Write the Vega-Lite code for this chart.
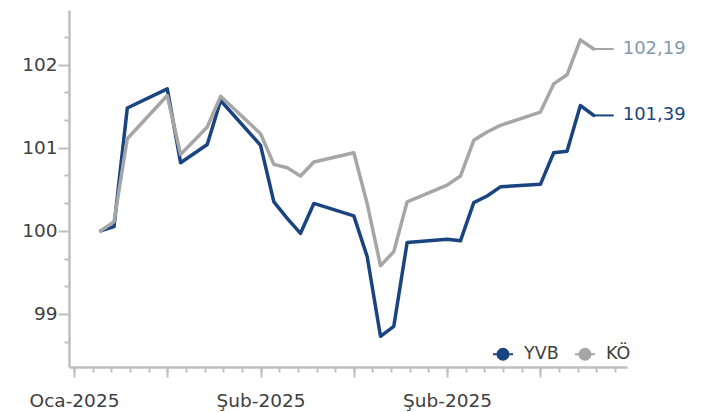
{
  "$schema": "https://vega.github.io/schema/vega-lite/v6.json",
  "width": 558,
  "height": 357,
  "autosize": {"type": "none"},
  "padding": {"left": 69, "top": 10, "right": 77, "bottom": 45},
  "background": "white",
  "config": {
    "view": {"stroke": null},
    "font": "DejaVu Sans",
    "locale": {
      "number": {"decimal": ",", "thousands": ".", "grouping": [3], "currency": ["₺", ""]},
      "time": {
        "dateTime": "%A, %e %B %Y %X",
        "date": "%d.%m.%Y",
        "time": "%H:%M:%S",
        "periods": ["AM", "PM"],
        "days": ["Pazar", "Pazartesi", "Salı", "Çarşamba", "Perşembe", "Cuma", "Cumartesi"],
        "shortDays": ["Paz", "Pzt", "Sal", "Çar", "Per", "Cum", "Cmt"],
        "months": ["Ocak", "Şubat", "Mart", "Nisan", "Mayıs", "Haziran", "Temmuz", "Ağustos", "Eylül", "Ekim", "Kasım", "Aralık"],
        "shortMonths": ["Oca", "Şub", "Mar", "Nis", "May", "Haz", "Tem", "Ağu", "Eyl", "Eki", "Kas", "Ara"]
      }
    },
    "axis": {
      "grid": false,
      "domainColor": "#BFBFBF",
      "tickColor": "#BFBFBF",
      "labelColor": "#404040",
      "labelFont": "DejaVu Sans",
      "labelFontSize": 18.5,
      "title": null
    }
  },
  "data": {
    "values": [
      {"date": "2025-01-22", "series": "YVB", "value": 100.00},
      {"date": "2025-01-23", "series": "YVB", "value": 100.05},
      {"date": "2025-01-24", "series": "YVB", "value": 101.48},
      {"date": "2025-01-27", "series": "YVB", "value": 101.71},
      {"date": "2025-01-28", "series": "YVB", "value": 100.82},
      {"date": "2025-01-30", "series": "YVB", "value": 101.04},
      {"date": "2025-01-31", "series": "YVB", "value": 101.57},
      {"date": "2025-02-03", "series": "YVB", "value": 101.03},
      {"date": "2025-02-04", "series": "YVB", "value": 100.35},
      {"date": "2025-02-05", "series": "YVB", "value": 100.15},
      {"date": "2025-02-06", "series": "YVB", "value": 99.97},
      {"date": "2025-02-07", "series": "YVB", "value": 100.33},
      {"date": "2025-02-10", "series": "YVB", "value": 100.18},
      {"date": "2025-02-11", "series": "YVB", "value": 99.69},
      {"date": "2025-02-12", "series": "YVB", "value": 98.73},
      {"date": "2025-02-13", "series": "YVB", "value": 98.85},
      {"date": "2025-02-14", "series": "YVB", "value": 99.86},
      {"date": "2025-02-17", "series": "YVB", "value": 99.90},
      {"date": "2025-02-18", "series": "YVB", "value": 99.88},
      {"date": "2025-02-19", "series": "YVB", "value": 100.34},
      {"date": "2025-02-20", "series": "YVB", "value": 100.42},
      {"date": "2025-02-21", "series": "YVB", "value": 100.53},
      {"date": "2025-02-24", "series": "YVB", "value": 100.56},
      {"date": "2025-02-25", "series": "YVB", "value": 100.94},
      {"date": "2025-02-26", "series": "YVB", "value": 100.96},
      {"date": "2025-02-27", "series": "YVB", "value": 101.51},
      {"date": "2025-02-28", "series": "YVB", "value": 101.39},
      {"date": "2025-01-22", "series": "KÖ", "value": 100.00},
      {"date": "2025-01-23", "series": "KÖ", "value": 100.11},
      {"date": "2025-01-24", "series": "KÖ", "value": 101.11},
      {"date": "2025-01-27", "series": "KÖ", "value": 101.63},
      {"date": "2025-01-28", "series": "KÖ", "value": 100.92},
      {"date": "2025-01-30", "series": "KÖ", "value": 101.25},
      {"date": "2025-01-31", "series": "KÖ", "value": 101.62},
      {"date": "2025-02-03", "series": "KÖ", "value": 101.17},
      {"date": "2025-02-04", "series": "KÖ", "value": 100.80},
      {"date": "2025-02-05", "series": "KÖ", "value": 100.76},
      {"date": "2025-02-06", "series": "KÖ", "value": 100.66},
      {"date": "2025-02-07", "series": "KÖ", "value": 100.83},
      {"date": "2025-02-10", "series": "KÖ", "value": 100.94},
      {"date": "2025-02-11", "series": "KÖ", "value": 100.33},
      {"date": "2025-02-12", "series": "KÖ", "value": 99.58},
      {"date": "2025-02-13", "series": "KÖ", "value": 99.75},
      {"date": "2025-02-14", "series": "KÖ", "value": 100.35},
      {"date": "2025-02-17", "series": "KÖ", "value": 100.55},
      {"date": "2025-02-18", "series": "KÖ", "value": 100.66},
      {"date": "2025-02-19", "series": "KÖ", "value": 101.09},
      {"date": "2025-02-20", "series": "KÖ", "value": 101.19},
      {"date": "2025-02-21", "series": "KÖ", "value": 101.27},
      {"date": "2025-02-24", "series": "KÖ", "value": 101.43},
      {"date": "2025-02-25", "series": "KÖ", "value": 101.77},
      {"date": "2025-02-26", "series": "KÖ", "value": 101.88},
      {"date": "2025-02-27", "series": "KÖ", "value": 102.30},
      {"date": "2025-02-28", "series": "KÖ", "value": 102.19}
    ]
  },
  "layer": [
    {
      "transform": [{"filter": {"field": "series", "equal": "YVB"}}],
      "mark": {"type": "line", "strokeWidth": 3.5, "strokeJoin": "round", "strokeCap": "round"},
      "encoding": {
        "x": {
          "field": "date", "type": "temporal",
          "scale": {"type": "utc", "domain": [1737298800000, 1740916800000]},
          "axis": {
            "orient": "bottom",
            "values": [1737331200000, 1737452160000, 1737573120000, 1737694080000, 1737815040000, 1737936000000, 1738056960000, 1738177920000, 1738298880000, 1738419840000, 1738540800000, 1738661760000, 1738782720000, 1738903680000, 1739024640000, 1739145600000, 1739266560000, 1739387520000, 1739508480000, 1739629440000, 1739750400000, 1739871360000, 1739992320000, 1740113280000, 1740234240000, 1740355200000, 1740476160000, 1740597120000, 1740718080000, 1740839040000],
            "tickSize": 5, "tickWidth": 2, "labels": false, "domain": true, "domainWidth": 2.5
          }
        },
        "y": {
          "field": "value", "type": "quantitative",
          "scale": {"domain": [98.36, 102.66], "zero": false, "nice": false},
          "axis": {
            "orient": "left",
            "values": [98.6667, 99.3333, 99.6667, 100.3333, 100.6667, 101.3333, 101.6667, 102.3333],
            "tickSize": 5, "tickWidth": 2, "labels": false, "domain": true, "domainWidth": 2.5
          }
        },
        "color": {
          "field": "series", "type": "nominal",
          "scale": {"domain": ["YVB", "KÖ"], "range": ["#1a4480", "#a6a6a6"]},
          "legend": {
            "title": null, "orient": "none", "legendX": 423, "legendY": 333, "direction": "horizontal",
            "symbolType": "M-1,0H1M0.55,0A0.55,0.55,0,1,1,-0.55,0A0.55,0.55,0,1,1,0.55,0Z",
            "symbolSize": 400, "symbolStrokeWidth": 2, "labelFontSize": 17.5, "labelColor": "#404040",
            "labelFont": "DejaVu Sans", "labelOffset": 10, "columnPadding": 12, "padding": 0,
            "encode": {"symbols": {"update": {"fill": {"scale": "color", "field": "value"}, "stroke": {"scale": "color", "field": "value"}, "opacity": {"value": 1}}}}
          }
        }
      }
    },
    {
      "transform": [{"filter": {"field": "series", "equal": "KÖ"}}],
      "mark": {"type": "line", "strokeWidth": 3.5, "strokeJoin": "round", "strokeCap": "round"},
      "encoding": {
        "x": {
          "field": "date", "type": "temporal",
          "scale": {"type": "utc", "domain": [1737298800000, 1740916800000]},
          "axis": {
            "orient": "bottom",
            "values": [1737331200000, 1737936000000, 1738540800000, 1739145600000, 1739750400000, 1740355200000],
            "tickSize": 10, "tickWidth": 2, "domain": false, "format": "%b-%Y",
            "labelExpr": "(round((datum.value - 1737331200000) / 86400000) % 14 == 0) ? datum.label : ''",
            "labelPadding": 14, "labelOverlap": false, "labelFlush": false, "labelBound": false
          }
        },
        "y": {
          "field": "value", "type": "quantitative",
          "scale": {"domain": [98.36, 102.66], "zero": false, "nice": false},
          "axis": {
            "orient": "left", "values": [99, 100, 101, 102], "format": "d",
            "tickSize": 11, "tickWidth": 2, "domain": false, "labelPadding": 1
          }
        },
        "color": {
          "field": "series", "type": "nominal",
          "scale": {"domain": ["YVB", "KÖ"], "range": ["#1a4480", "#a6a6a6"]},
          "legend": {
            "title": null, "orient": "none", "legendX": 423, "legendY": 333, "direction": "horizontal",
            "symbolType": "M-1,0H1M0.55,0A0.55,0.55,0,1,1,-0.55,0A0.55,0.55,0,1,1,0.55,0Z",
            "symbolSize": 400, "symbolStrokeWidth": 2, "labelFontSize": 17.5, "labelColor": "#404040",
            "labelFont": "DejaVu Sans", "labelOffset": 10, "columnPadding": 12, "padding": 0,
            "encode": {"symbols": {"update": {"fill": {"scale": "color", "field": "value"}, "stroke": {"scale": "color", "field": "value"}, "opacity": {"value": 1}}}}
          }
        }
      }
    },
    {
      "transform": [
        {"filter": {"field": "series", "equal": "YVB"}},
        {"filter": {"field": "date", "equal": {"year": 2025, "month": 2, "date": 28, "utc": true}}}
      ],
      "mark": {"type": "rule", "strokeWidth": 2, "color": "#1a4480", "x2Offset": 20},
      "encoding": {
        "x": {"field": "date", "type": "temporal", "scale": {"type": "utc", "domain": [1737298800000, 1740916800000]}, "axis": null},
        "x2": {"field": "date"},
        "y": {"field": "value", "type": "quantitative", "scale": {"domain": [98.36, 102.66], "zero": false, "nice": false}, "axis": null}
      }
    },
    {
      "transform": [
        {"filter": {"field": "series", "equal": "KÖ"}},
        {"filter": {"field": "date", "equal": {"year": 2025, "month": 2, "date": 28, "utc": true}}}
      ],
      "mark": {"type": "rule", "strokeWidth": 2, "color": "#a6a6a6", "x2Offset": 20},
      "encoding": {
        "x": {"field": "date", "type": "temporal", "scale": {"type": "utc", "domain": [1737298800000, 1740916800000]}, "axis": null},
        "x2": {"field": "date"},
        "y": {"field": "value", "type": "quantitative", "scale": {"domain": [98.36, 102.66], "zero": false, "nice": false}, "axis": null}
      }
    },
    {
      "transform": [
        {"filter": {"field": "series", "equal": "YVB"}},
        {"filter": {"field": "date", "equal": {"year": 2025, "month": 2, "date": 28, "utc": true}}}
      ],
      "mark": {"type": "text", "align": "left", "baseline": "middle", "dx": 29, "fontSize": 18, "font": "DejaVu Sans", "color": "#1a4480"},
      "encoding": {
        "x": {"field": "date", "type": "temporal", "scale": {"type": "utc", "domain": [1737298800000, 1740916800000]}, "axis": null},
        "y": {"field": "value", "type": "quantitative", "scale": {"domain": [98.36, 102.66], "zero": false, "nice": false}, "axis": null},
        "text": {"field": "value", "type": "quantitative", "format": ".2f"}
      }
    },
    {
      "transform": [
        {"filter": {"field": "series", "equal": "KÖ"}},
        {"filter": {"field": "date", "equal": {"year": 2025, "month": 2, "date": 28, "utc": true}}}
      ],
      "mark": {"type": "text", "align": "left", "baseline": "middle", "dx": 29, "fontSize": 18, "font": "DejaVu Sans", "color": "#8497b0"},
      "encoding": {
        "x": {"field": "date", "type": "temporal", "scale": {"type": "utc", "domain": [1737298800000, 1740916800000]}, "axis": null},
        "y": {"field": "value", "type": "quantitative", "scale": {"domain": [98.36, 102.66], "zero": false, "nice": false}, "axis": null},
        "text": {"field": "value", "type": "quantitative", "format": ".2f"}
      }
    }
  ],
  "resolve": {"axis": {"x": "independent", "y": "independent"}}
}
